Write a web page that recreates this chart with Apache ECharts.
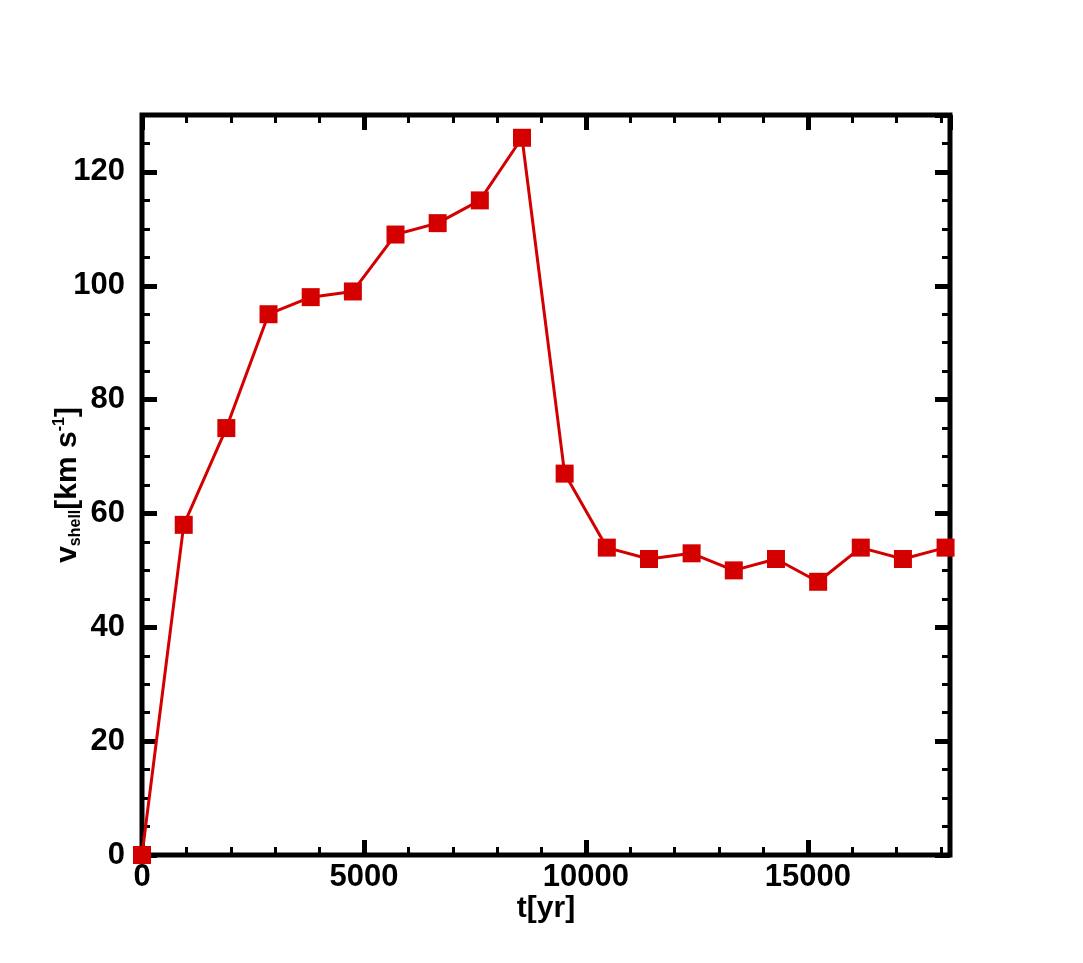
<!DOCTYPE html>
<html>
<head>
<meta charset="utf-8">
<script src="https://cdn.jsdelivr.net/npm/echarts@6/dist/echarts.min.js"></script>
<style>html,body{margin:0;padding:0;background:#fff}#c{width:1083px;height:963px}</style>
</head>
<body>
<div id="c"></div>
<script>
const timeYr = [0, 940, 1900, 2850, 3800, 4750, 5710, 6660, 7610, 8560, 9520, 10470, 11420, 12380, 13330, 14280, 15230, 16190, 17140, 18100];
const vShell = [0, 58, 75, 95, 98, 99, 109, 111, 115, 126, 67, 54, 52, 53, 50, 52, 48, 54, 52, 54];
const xMin = 0, xMax = 18200, yMin = 0, yMax = 130;

const FONT = '"Liberation Sans", Arial, Helvetica, sans-serif';
const chart = echarts.init(document.getElementById('c'), null, {renderer: 'canvas'});

function xAxisDef(pos, interval, len, w, labels, name) {
  return {
    type: 'value', position: pos, min: xMin, max: xMax, interval: interval,
    axisLine: {show: false, onZero: false}, splitLine: {show: false},
    axisTick: {show: true, inside: true, length: len, lineStyle: {color: '#000', width: w}},
    axisLabel: {show: labels, showMaxLabel: false, margin: 7, color: '#000', fontSize: 31, fontWeight: 'bold', fontFamily: FONT,
      formatter: v => String(v)},
    name: name || '', nameLocation: 'middle', nameGap: 39, nameMoveOverlap: false,
    nameTextStyle: {color: '#000', fontSize: 30, fontWeight: 'bold', fontFamily: FONT}
  };
}
function yAxisDef(pos, interval, len, w, labels, name) {
  return {
    type: 'value', position: pos, min: yMin, max: yMax, interval: interval,
    axisLine: {show: false, onZero: false}, splitLine: {show: false},
    axisTick: {show: true, inside: true, length: len, lineStyle: {color: '#000', width: w}},
    axisLabel: {show: labels, showMaxLabel: false, margin: 17, color: '#000', fontSize: 31, fontWeight: 'bold', fontFamily: FONT,
      formatter: v => String(v)},
    name: name || '', nameLocation: 'middle', nameGap: 57, nameRotate: 90, nameMoveOverlap: false,
    nameTextStyle: {
      color: '#000', fontSize: 30, fontWeight: 'bold', fontFamily: FONT,
      rich: {
        b: {fontSize: 30, fontWeight: 'bold', fontFamily: FONT, color: '#000', lineHeight: 34},
        sub: {fontSize: 16, fontWeight: 'bold', fontFamily: FONT, color: '#000', padding: [16, 0, 0, 0], lineHeight: 34},
        sup: {fontSize: 16, fontWeight: 'bold', fontFamily: FONT, color: '#000', padding: [0, 0, 16, 0], lineHeight: 34}
      }
    }
  };
}

chart.setOption({
  backgroundColor: '#fff',
  animation: false,
  grid: {left: 142, right: 133, top: 115, bottom: 108, show: true, borderColor: '#000', borderWidth: 5, backgroundColor: 'transparent', containLabel: false},
  xAxis: [
    xAxisDef('bottom', 5000, 15, 5, true, 't[yr]'),
    xAxisDef('bottom', 1000, 8, 3, false),
    xAxisDef('top', 5000, 15, 5, false),
    xAxisDef('top', 1000, 8, 3, false)
  ],
  yAxis: [
    yAxisDef('left', 20, 15, 5, true, '{b|v}{sub|shell}{b|[km s}{sup|-1}{b|]}'),
    yAxisDef('left', 5, 8, 3, false),
    yAxisDef('right', 20, 15, 5, false),
    yAxisDef('right', 5, 8, 3, false)
  ],
  series: [{
    type: 'line', xAxisIndex: 0, yAxisIndex: 0,
    data: timeYr.map((t, i) => [t, vShell[i]]),
    symbol: 'rect', symbolSize: 18,
    lineStyle: {color: '#d40000', width: 3},
    itemStyle: {color: '#d40000'},
    clip: false, z: 1
  }]
});
</script>
</body>
</html>
